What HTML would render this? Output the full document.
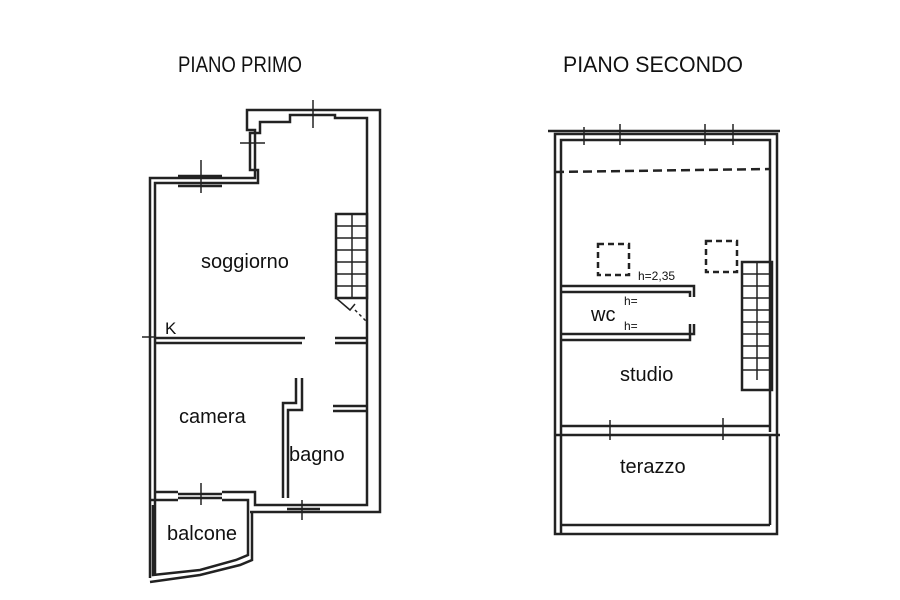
<!DOCTYPE html>
<html><head><meta charset="utf-8"><style>
html,body{margin:0;padding:0;background:#fff;}
svg{display:block;}
text{font-family:"Liberation Sans",sans-serif;fill:#111;}
</style></head><body>
<svg width="900" height="600" viewBox="0 0 900 600" xmlns="http://www.w3.org/2000/svg">
<rect width="900" height="600" fill="#fff"/>
<text x="178" y="72" font-size="22" textLength="124" lengthAdjust="spacingAndGlyphs">PIANO PRIMO</text>
<text x="563" y="72" font-size="22" textLength="180" lengthAdjust="spacingAndGlyphs">PIANO SECONDO</text>

<g fill="none" stroke="#222" stroke-width="2.5">
<polyline points="150,578 150,178 255,178 255,130 247,130 247,110 380,110 380,512 250,512"/>
<polyline points="155,576 155,183 258,183 258,170 250,170 250,133 260,133 260,122 290,122 290,115 335,115 335,118 367,118 367,492"/>
<line x1="178" y1="176" x2="222" y2="176"/><line x1="178" y1="186" x2="222" y2="186"/>
<line x1="201" y1="160" x2="201" y2="193" stroke-width="1.5"/>
<line x1="313" y1="100" x2="313" y2="128" stroke-width="1.5"/>
<line x1="240" y1="143" x2="265" y2="143" stroke-width="1.5"/>
<line x1="155" y1="338" x2="305" y2="338"/><line x1="155" y1="343" x2="302" y2="343"/>
<line x1="335" y1="338" x2="367" y2="338"/><line x1="335" y1="343" x2="367" y2="343"/>
<line x1="142" y1="337" x2="155" y2="337" stroke-width="1.5"/>
<polyline points="296,378 296,403 283,403 283,498"/>
<polyline points="302,378 302,410 288,410 288,498"/>
<line x1="333" y1="406" x2="367" y2="406"/><line x1="333" y1="411" x2="367" y2="411"/>
<polyline points="155,492 178,492"/><polyline points="222,492 255,492 255,505 367,505 367,492"/>
<polyline points="150,500 178,500"/><polyline points="222,500 248,500 248,512"/>
<line x1="178" y1="494" x2="222" y2="494"/><line x1="178" y1="498" x2="222" y2="498"/>
<line x1="201" y1="483" x2="201" y2="505" stroke-width="1.5"/>
<line x1="287" y1="509" x2="320" y2="509"/>
<line x1="302" y1="500" x2="302" y2="520" stroke-width="1.5"/>
<polyline points="153,505 153,575 200,570 236,560 248,555 248,512"/>
<polyline points="150,582 200,575 240,565 252,560 252,512"/>
<rect x="336" y="214" width="31" height="84"/>
<line x1="352" y1="214" x2="352" y2="298" stroke-width="1.5"/>
<line x1="336" y1="226" x2="367" y2="226" stroke-width="1.5"/>
<line x1="336" y1="238" x2="367" y2="238" stroke-width="1.5"/>
<line x1="336" y1="250" x2="367" y2="250" stroke-width="1.5"/>
<line x1="336" y1="262" x2="367" y2="262" stroke-width="1.5"/>
<line x1="336" y1="274" x2="367" y2="274" stroke-width="1.5"/>
<line x1="336" y1="286" x2="367" y2="286" stroke-width="1.5"/>
<polyline points="336,298 350,310 355,304" stroke-width="1.5"/>
<line x1="355" y1="310" x2="367" y2="322" stroke-width="1.5" stroke-dasharray="3,3"/>

<rect x="555" y="134" width="222" height="400"/>
<polyline points="561,534 561,140 770,140 770,432"/>
<line x1="548" y1="131" x2="780" y2="131"/>
<line x1="584" y1="127" x2="584" y2="145" stroke-width="1.5"/>
<line x1="620" y1="124" x2="620" y2="145" stroke-width="1.5"/>
<line x1="705" y1="124" x2="705" y2="145" stroke-width="1.5"/>
<line x1="733" y1="124" x2="733" y2="145" stroke-width="1.5"/>
<line x1="555" y1="172" x2="770" y2="169" stroke-dasharray="9,5"/>
<polyline points="561,286 694,286 694,297"/>
<polyline points="561,292 690,292 690,297"/>
<polyline points="561,334 694,334 694,324"/>
<polyline points="561,340 690,340 690,324"/>
<rect x="598" y="244" width="31" height="31" stroke-dasharray="6,4"/>
<rect x="706" y="241" width="31" height="31" stroke-dasharray="6,4"/>
<rect x="742" y="262" width="30" height="128"/>
<line x1="757" y1="262" x2="757" y2="380" stroke-width="1.5"/>
<line x1="742" y1="274" x2="772" y2="274" stroke-width="1.5"/>
<line x1="742" y1="286" x2="772" y2="286" stroke-width="1.5"/>
<line x1="742" y1="298" x2="772" y2="298" stroke-width="1.5"/>
<line x1="742" y1="310" x2="772" y2="310" stroke-width="1.5"/>
<line x1="742" y1="322" x2="772" y2="322" stroke-width="1.5"/>
<line x1="742" y1="334" x2="772" y2="334" stroke-width="1.5"/>
<line x1="742" y1="346" x2="772" y2="346" stroke-width="1.5"/>
<line x1="742" y1="358" x2="772" y2="358" stroke-width="1.5"/>
<line x1="742" y1="370" x2="772" y2="370" stroke-width="1.5"/>
<line x1="561" y1="426" x2="770" y2="426"/>
<line x1="555" y1="435" x2="780" y2="435"/>
<line x1="610" y1="420" x2="610" y2="440" stroke-width="1.5"/>
<line x1="723" y1="418" x2="723" y2="440" stroke-width="1.5"/>
<line x1="561" y1="525" x2="770" y2="525"/>
<line x1="770" y1="435" x2="770" y2="525"/>
</g>

<g font-size="20">
<text x="201" y="268">soggiorno</text>
<text x="165" y="334" font-size="17">K</text>
<text x="179" y="423">camera</text>
<text x="289" y="461">bagno</text>
<text x="167" y="540">balcone</text>
<text x="591" y="321">wc</text>
<text x="620" y="381">studio</text>
<text x="620" y="473">terazzo</text>
</g>
<g font-size="12">
<text x="638" y="280">h=2,35</text>
<text x="624" y="305">h=</text>
<text x="624" y="330">h=</text>
</g>
</svg>
</body></html>
